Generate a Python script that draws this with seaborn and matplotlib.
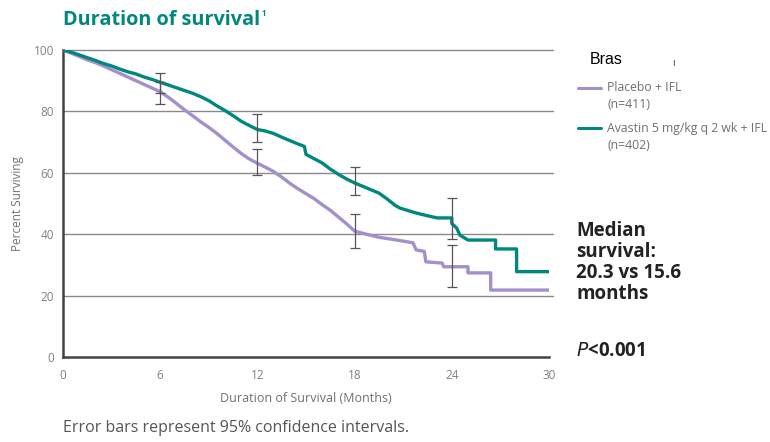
import numpy as np
import pandas as pd
import matplotlib
matplotlib.use("Agg")
import matplotlib.pyplot as plt
import seaborn as sns

# ---- data (KM curves; repeated months = step drops) --
avastin_months = [0, 0.5, 1, 1.5, 2, 2.5, 3, 3.5, 4, 4.5, 5, 5.5, 6, 6.5, 7, 7.5,
                  8, 8.5, 9, 9.5, 10, 10.5, 11, 11.5, 12, 12.5, 13, 13.5, 14, 14.5,
                  14.9, 15.0, 15.5, 16, 16.5, 17, 17.5, 18, 18.5, 19, 19.5, 20,
                  20.5, 20.8, 21.8, 22.5, 23.1, 24.0, 24.0, 24.3, 24.5, 25.0,
                  26.7, 26.7, 28.0, 28.0, 30]
avastin_surv = [100, 99.3, 98.4, 97.5, 96.6, 95.6, 94.8, 93.8, 92.9, 92.2, 91.2,
                90.4, 89.5, 88.6, 87.7, 86.8, 85.9, 84.8, 83.5, 81.8, 80.3, 78.6,
                76.8, 75.4, 74.1, 73.6, 72.8, 71.6, 70.5, 69.4, 68.6, 66.0, 64.6,
                63.2, 61.2, 59.5, 58.0, 56.7, 55.6, 54.5, 53.4, 51.5, 49.4, 48.5,
                46.9, 46.0, 45.3, 45.3, 43.5, 42.0, 39.7, 38.1, 38.1, 35.2, 35.2,
                27.8, 27.8]

placebo_months = [0, 0.5, 1, 1.5, 2, 2.5, 3, 3.5, 4, 4.5, 5, 5.5, 6, 6.5, 7, 7.5,
                  8, 8.5, 9, 9.5, 10, 10.5, 11, 11.5, 12, 12.5, 13, 13.5, 14, 14.5,
                  15, 15.5, 16, 16.5, 17, 17.5, 18, 18.5, 19.5, 20.6, 21.6, 21.8,
                  22.3, 22.4, 23.4, 23.5, 25.0, 25.0, 26.4, 26.4, 30]
placebo_surv = [100, 99.0, 97.9, 96.8, 95.9, 94.8, 93.6, 92.4, 91.2, 90.0, 88.8,
                87.6, 86.4, 84.6, 82.6, 80.5, 78.6, 76.6, 74.8, 72.8, 70.6, 68.4,
                66.3, 64.5, 63.1, 61.8, 60.4, 58.6, 56.6, 54.8, 53.2, 51.6, 49.6,
                47.8, 45.6, 43.4, 41.0, 40.3, 39.0, 38.1, 37.2, 34.9, 34.4, 31.0,
                30.6, 29.4, 29.4, 27.4, 27.4, 21.8, 21.8]

# 95% CI error bars at 6, 12, 18, 24 months
ci_months = [6, 12, 18, 24]
avastin_ci_mid = [89.5, 74.1, 56.7, 45.0]
avastin_ci_low = [86.0, 70.1, 52.8, 38.4]
avastin_ci_high = [92.6, 79.2, 61.9, 51.9]
placebo_ci_mid = [86.4, 63.1, 41.0, 29.4]
placebo_ci_low = [82.4, 59.3, 35.5, 22.9]
placebo_ci_high = [89.5, 67.6, 46.6, 36.5]

arm_names = ["Placebo + IFL", "Avastin 5 mg/kg q 2 wk + IFL"]
arm_counts = ["(n=411)", "(n=402)"]
arm_colors = ["#a38fcb", "#00877e"]

x_ticks = [0, 6, 12, 18, 24, 30]
y_ticks = [0, 20, 40, 60, 80, 100]

TEAL = "#00877e"
GREY = "#707070"
W, H = 770, 442


def fx(px):
    return px / W


def fy(py):
    return 1 - py / H


def build_frame():
    placebo = pd.DataFrame({"month": placebo_months, "surv": placebo_surv,
                            "arm": arm_names[0]})
    avastin = pd.DataFrame({"month": avastin_months, "surv": avastin_surv,
                            "arm": arm_names[1]})
    return pd.concat([placebo, avastin], ignore_index=True)


def main():
    sns.set_style("white")
    plt.rcParams['font.family'] = ['Open Sans', 'DejaVu Sans']

    df = build_frame()
    fig = plt.figure(figsize=(7.7, 4.42), dpi=100)
    ax_left, ax_right, ax_top, ax_bottom = 63, 549, 50, 357
    ax = fig.add_axes([fx(ax_left), fy(ax_bottom), (ax_right - ax_left) / W,
                       (ax_bottom - ax_top) / H])

    # grid lines
    for v in y_ticks[1:]:
        ax.axhline(v, color="#8a8a8a", lw=1.0, zorder=1, clip_on=False,
                   xmax=1.008)

    sns.lineplot(data=df, x="month", y="surv", hue="arm",
                 palette=dict(zip(arm_names, arm_colors)),
                 estimator=None, sort=False,
                 linewidth=2.4, legend=False, ax=ax, zorder=3)

    for mid, lo, hi in [(avastin_ci_mid, avastin_ci_low, avastin_ci_high),
                        (placebo_ci_mid, placebo_ci_low, placebo_ci_high)]:
        mid = np.array(mid)
        err = [mid - np.array(lo), np.array(hi) - mid]
        ax.errorbar(ci_months, mid, yerr=err, fmt="none", ecolor="#555555",
                    elinewidth=0.9, capsize=3.5, capthick=0.9, zorder=4)

    ax.set_xlim(0, 30)
    ax.set_ylim(0, 100)
    ax.set_xticks(x_ticks)
    ax.set_yticks(y_ticks)
    ax.tick_params(axis="both", direction="out", length=3.5, width=1.2,
                   colors="#444444", labelcolor="#808080", labelsize=8.5)
    ax.tick_params(axis="x", pad=5)
    ax.tick_params(axis="y", pad=3)
    for side in ["top", "right"]:
        ax.spines[side].set_visible(False)
    for side in ["left", "bottom"]:
        ax.spines[side].set_color("#444444")
        ax.spines[side].set_linewidth(1.8)

    ax.set_xlabel("Duration of Survival (Months)", fontsize=9, color=GREY)
    ax.set_ylabel("Percent Surviving", fontsize=8.5, color=GREY)
    span_x = ax_right - ax_left
    span_y = ax_bottom - ax_top
    ax.xaxis.set_label_coords(0.5, -(399 - ax_bottom) / span_y)
    ax.xaxis.label.set_va("center")
    ax.yaxis.set_label_coords(-(ax_left - 18) / span_x, 0.5)
    ax.yaxis.label.set_va("center")

    # title with a small superscript placed right after it
    title = fig.text(fx(63), fy(20), "Duration of survival", fontsize=14.3,
                     fontweight="bold", color=TEAL, va="center", ha="left")
    renderer = fig.canvas.get_renderer()
    title_end = title.get_window_extent(renderer).x1
    fig.text((title_end + 1.5) / W, fy(14), "1", fontsize=5.5,
             fontweight="bold", color=TEAL, va="center", ha="left")

    # legend block
    fig.text(fx(590), fy(59), "Bras", fontsize=11.5, color="black",
             family="Liberation Sans", va="center")
    fig.text(fx(672), fy(63), "ı", fontsize=7, color="#333333", va="center")
    for i, (name, cnt, col) in enumerate(zip(arm_names, arm_counts, arm_colors)):
        y0 = 87.5 + i * 40.5
        fig.add_artist(plt.Line2D([fx(578), fx(601)], [fy(y0), fy(y0)],
                                  color=col, lw=2.2))
        fig.text(fx(607), fy(y0), name, fontsize=8.8, color=GREY,
                 va="center")
        fig.text(fx(607), fy(y0 + 17.5), cnt, fontsize=8.8, color=GREY,
                 va="center")

    # median survival annotation
    median_lines = ["Median", "survival:", "20.3 vs 15.6", "months"]
    for i, line in enumerate(median_lines):
        fig.text(fx(576), fy(231 + i * 21), line, fontsize=13.5,
                 fontweight="bold", color="#222222", va="center")
    fig.text(fx(576), fy(351), "$\\mathit{P}$<0.001", fontsize=13.5,
             fontweight="bold", color="#222222", va="center")

    fig.text(fx(63), fy(428),
             "Error bars represent 95% confidence intervals.",
             fontsize=11.5, color="#555555", va="center")

    fig.savefig("out.png", dpi=100)
    plt.close(fig)


if __name__ == "__main__":
    main()
